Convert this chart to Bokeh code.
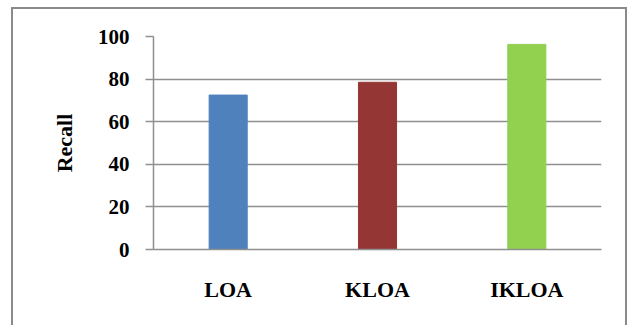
from bokeh.plotting import figure
from bokeh.models import ColumnDataSource, FactorRange, Range1d, FixedTicker
from bokeh.embed import file_html
from bokeh.resources import INLINE

categories = ["LOA", "KLOA", "IKLOA"]
recall = [72.5, 78.5, 96.3]
bar_colors = ["#4F81BD", "#943634", "#92D050"]
y_ticks = [0, 20, 40, 60, 80, 100]

source = ColumnDataSource(dict(cat=categories, val=recall, color=bar_colors))

p = figure(x_range=FactorRange(*categories), y_range=Range1d(0, 100),
           width=616, height=318, output_backend="svg", toolbar_location=None,
           min_border_left=140, min_border_right=28, min_border_top=27,
           min_border_bottom=78)
p.styles = {"margin-left": "11px", "margin-top": "7px",
            "border-left": "2px solid #8a8a8a", "border-top": "2px solid #8a8a8a",
            "border-right": "2px solid #8a8a8a"}

p.vbar(x="cat", top="val", width=0.255, bottom=0, source=source,
       fill_color="color", line_color="color")

grid_color = "#8f8f8f"
p.outline_line_color = None
p.xgrid.grid_line_color = None
p.ygrid.grid_line_color = grid_color
p.ygrid.grid_line_width = 1.5

p.yaxis.ticker = FixedTicker(ticks=y_ticks)
p.yaxis.axis_line_color = grid_color
p.yaxis.axis_line_width = 1.5
p.yaxis.major_tick_line_color = grid_color
p.yaxis.major_tick_line_width = 1.5
p.yaxis.major_tick_out = 8
p.yaxis.major_tick_in = 0
p.yaxis.minor_tick_line_color = None
p.yaxis.major_label_standoff = 16
p.yaxis.major_label_text_font = "Liberation Serif"
p.yaxis.major_label_text_font_style = "bold"
p.yaxis.major_label_text_font_size = "21px"
p.yaxis.major_label_text_color = "#000000"
p.yaxis.axis_label = "Recall"
p.yaxis.axis_label_text_font = "Liberation Serif"
p.yaxis.axis_label_text_font_style = "bold"
p.yaxis.axis_label_text_font_size = "22px"
p.yaxis.axis_label_text_color = "#000000"
p.yaxis.axis_label_standoff = 18

p.xaxis.axis_line_color = grid_color
p.xaxis.axis_line_width = 1.5
p.xaxis.major_tick_line_color = None
p.xaxis.minor_tick_line_color = None
p.xaxis.major_tick_out = 0
p.xaxis.major_label_standoff = 27
p.xaxis.major_label_text_font = "Liberation Serif"
p.xaxis.major_label_text_font_style = "bold"
p.xaxis.major_label_text_font_size = "22px"
p.xaxis.major_label_text_color = "#000000"

open("out.html", "w").write(file_html(p, INLINE))
